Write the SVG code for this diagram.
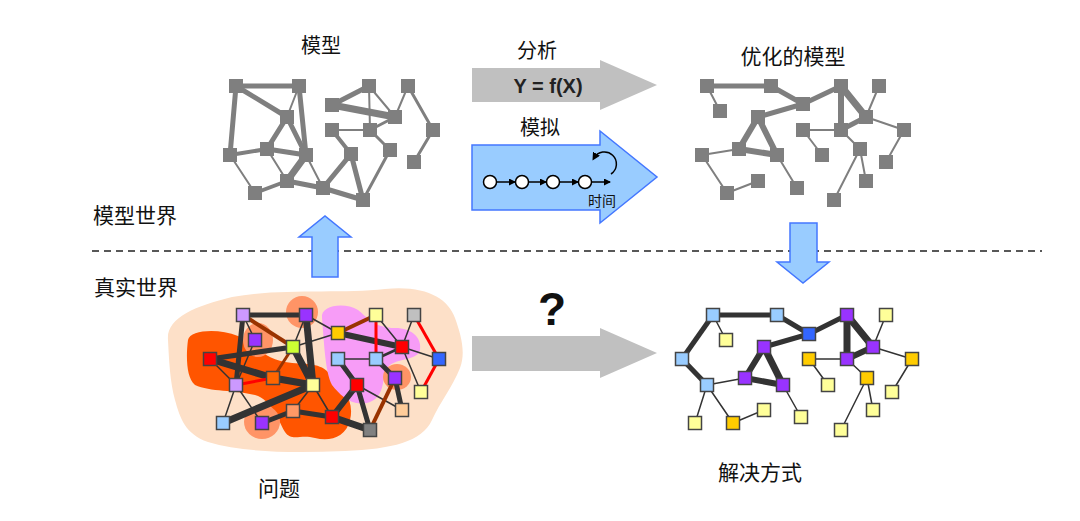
<svg xmlns="http://www.w3.org/2000/svg" width="1080" height="521" viewBox="0 0 1080 521">
<style>
.t{font-family:"Noto Sans CJK SC","Noto Sans",sans-serif;font-size:20px;fill:#111;text-anchor:middle}
.ge{stroke:#7f7f7f;stroke-linecap:round;fill:none}
.gn{fill:#7f7f7f}
.de{stroke:#333;stroke-linecap:round;fill:none}
.br{stroke:#993300;fill:none}
.rd{stroke:#ff0000;fill:none}
.bn{stroke:#444;stroke-width:1.5}
.lav{fill:#cc99ff}.pur{fill:#9933ff}.lim{fill:#ccff33}.red{fill:#ff0000}.org{fill:#ff6600}
.ly{fill:#ffff99}.sal{fill:#ff9966}.lb{fill:#99ccff}.gold{fill:#ffcc00}.lg{fill:#c0c0c0}
.blu{fill:#3366ff}.pch{fill:#ffcc99}.gry{fill:#808080}
.barrow{fill:#99ccff;stroke:#4477ff;stroke-width:1.5}
.garrow{fill:#c0c0c0}
</style>
<defs>
<marker id="ah" markerWidth="7" markerHeight="7" refX="6" refY="3.5" orient="auto" markerUnits="userSpaceOnUse">
<path d="M0,0 L7,3.5 L0,7 Z" fill="#000"/>
</marker>
<marker id="ah2" markerWidth="8" markerHeight="8" refX="5" refY="4" orient="auto" markerUnits="userSpaceOnUse">
<path d="M0,0 L8,4 L0,8 Z" fill="#000"/>
</marker>
</defs>

<!-- labels -->
<g id="labels">
<text class="t" x="321" y="53">模型</text>
<text class="t" x="537" y="58">分析</text>
<text class="t" x="793" y="64" style="font-size:21px">优化的模型</text>
<text class="t" x="540" y="135">模拟</text>
<text class="t" x="135" y="223" style="font-size:21px">模型世界</text>
<text class="t" x="136" y="295" style="font-size:21px">真实世界</text>
<text class="t" x="279" y="496" style="font-size:21px">问题</text>
<text class="t" x="760" y="480" style="font-size:21px">解决方式</text>
</g>

<!-- divider -->
<line x1="92" y1="251" x2="1042" y2="251" stroke="#222" stroke-width="1.5" stroke-dasharray="7 5"/>

<!-- big arrows -->
<g id="arrow-analysis">
<path class="garrow" d="M472,68 H600 V60 L657,85 L600,110 V102 H472 Z"/>
<text x="548" y="93" style="font-family:'Liberation Sans',Arial,sans-serif;font-weight:bold;font-size:20px;fill:#222;text-anchor:middle">Y = f(X)</text>
</g>
<g id="arrow-sim">
<path class="barrow" d="M472,145 H600 V131 L657,177 L600,223 V210 H472 Z"/>
<line x1="496.5" y1="182" x2="515" y2="182" stroke="#000" stroke-width="1.5" marker-end="url(#ah)"/>
<line x1="528.5" y1="182" x2="546" y2="182" stroke="#000" stroke-width="1.5" marker-end="url(#ah)"/>
<line x1="559.5" y1="182" x2="578" y2="182" stroke="#000" stroke-width="1.5" marker-end="url(#ah)"/>
<line x1="591.5" y1="182" x2="610" y2="182" stroke="#000" stroke-width="1.5" marker-end="url(#ah)"/>
<circle cx="490" cy="182" r="6.5" fill="#fff" stroke="#000" stroke-width="1.5"/>
<circle cx="522" cy="182" r="6.5" fill="#fff" stroke="#000" stroke-width="1.5"/>
<circle cx="553" cy="182" r="6.5" fill="#fff" stroke="#000" stroke-width="1.5"/>
<circle cx="585" cy="182" r="6.5" fill="#fff" stroke="#000" stroke-width="1.5"/>
<path d="M611,174 A12,12 0 1 0 594,158" fill="none" stroke="#000" stroke-width="1.5" marker-end="url(#ah2)"/>
<text class="t" x="602" y="206" style="font-size:14px">时间</text>
</g>
<g id="arrow-up"><path class="barrow" d="M312,277 V237 H299 L325,216 L351,237 H338 V277 Z"/></g>
<g id="arrow-down"><path class="barrow" d="M790,223 H817 V262 H829 L803,283 L777,262 H790 Z"/></g>
<g id="arrow-question">
<path class="garrow" d="M472,336 H600 V328 L657,353 L600,378 V371 H472 Z"/>
<text x="552" y="325" style="font-family:'Liberation Sans',Arial,sans-serif;font-weight:bold;font-size:46px;fill:#111;text-anchor:middle">?</text>
</g>

<!-- top-left model connectors -->
<g id="tl-connectors">
<g class="ge" stroke-width="2">
<line x1="299" y1="86" x2="287" y2="117"/><line x1="230" y1="155" x2="255" y2="193"/>
<line x1="267" y1="149" x2="287" y2="181"/><line x1="306" y1="155" x2="323" y2="188"/>
<line x1="332" y1="130" x2="370" y2="130"/><line x1="369" y1="86" x2="395" y2="117"/>
<line x1="369" y1="86" x2="370" y2="130"/><line x1="408" y1="86" x2="395" y2="117"/>
</g>
<g class="ge" stroke-width="3">
<line x1="370" y1="130" x2="390" y2="150"/><line x1="390" y1="150" x2="363" y2="200"/>
<line x1="370" y1="130" x2="395" y2="117"/><line x1="408" y1="86" x2="433" y2="130"/>
<line x1="433" y1="130" x2="414" y2="162"/>
</g>
<g class="ge" stroke-width="4">
<line x1="230" y1="155" x2="267" y2="149"/><line x1="255" y1="193" x2="287" y2="181"/>
<line x1="332" y1="130" x2="351" y2="154"/>
</g>
<g class="ge" stroke-width="5">
<line x1="236" y1="86" x2="299" y2="86"/><line x1="236" y1="86" x2="287" y2="117"/>
<line x1="236" y1="86" x2="230" y2="155"/><line x1="299" y1="86" x2="306" y2="155"/>
<line x1="287" y1="117" x2="267" y2="149"/><line x1="287" y1="117" x2="306" y2="155"/>
<line x1="267" y1="149" x2="306" y2="155"/><line x1="287" y1="181" x2="323" y2="188"/>
<line x1="323" y1="188" x2="363" y2="200"/><line x1="323" y1="188" x2="351" y2="154"/>
<line x1="351" y1="154" x2="363" y2="200"/><line x1="332" y1="105" x2="369" y2="86"/>
</g>
<g class="ge" stroke-width="7">
<line x1="306" y1="155" x2="287" y2="181"/><line x1="332" y1="105" x2="395" y2="117"/>
</g>
</g>

<!-- top-left model nodes -->
<g id="tl-A"><rect class="gn" x="229" y="79" width="14" height="14"/></g>
<g id="tl-B"><rect class="gn" x="292" y="79" width="14" height="14"/></g>
<g id="tl-C"><rect class="gn" x="280" y="110" width="14" height="14"/></g>
<g id="tl-D"><rect class="gn" x="223" y="148" width="14" height="14"/></g>
<g id="tl-E"><rect class="gn" x="260" y="142" width="14" height="14"/></g>
<g id="tl-F"><rect class="gn" x="299" y="148" width="14" height="14"/></g>
<g id="tl-G"><rect class="gn" x="248" y="186" width="14" height="14"/></g>
<g id="tl-H"><rect class="gn" x="280" y="174" width="14" height="14"/></g>
<g id="tl-I"><rect class="gn" x="316" y="181" width="14" height="14"/></g>
<g id="tl-J"><rect class="gn" x="356" y="193" width="14" height="14"/></g>
<g id="tl-K"><rect class="gn" x="344" y="147" width="14" height="14"/></g>
<g id="tl-L"><rect class="gn" x="325" y="123" width="14" height="14"/></g>
<g id="tl-M"><rect class="gn" x="363" y="123" width="14" height="14"/></g>
<g id="tl-N"><rect class="gn" x="383" y="143" width="14" height="14"/></g>
<g id="tl-O"><rect class="gn" x="325" y="98" width="14" height="14"/></g>
<g id="tl-P"><rect class="gn" x="362" y="79" width="14" height="14"/></g>
<g id="tl-Q"><rect class="gn" x="388" y="110" width="14" height="14"/></g>
<g id="tl-R"><rect class="gn" x="401" y="79" width="14" height="14"/></g>
<g id="tl-S"><rect class="gn" x="426" y="123" width="14" height="14"/></g>
<g id="tl-T"><rect class="gn" x="407" y="155" width="14" height="14"/></g>

<!-- top-right optimized connectors -->
<g id="tr-connectors">
<g class="ge" stroke-width="2">
<line x1="707" y1="86" x2="720" y2="111"/><line x1="739" y1="149" x2="702" y2="155"/>
<line x1="702" y1="155" x2="727" y2="193"/><line x1="727" y1="193" x2="758" y2="181"/>
<line x1="777" y1="155" x2="797" y2="188"/><line x1="879" y1="86" x2="866" y2="117"/>
<line x1="866" y1="117" x2="904" y2="130"/><line x1="904" y1="130" x2="886" y2="162"/>
<line x1="803" y1="130" x2="841" y2="130"/><line x1="803" y1="130" x2="822" y2="155"/>
<line x1="841" y1="130" x2="860" y2="149"/><line x1="860" y1="149" x2="866" y2="181"/>
<line x1="860" y1="149" x2="834" y2="200"/>
</g>
<g class="ge" stroke-width="5">
<line x1="707" y1="86" x2="771" y2="86"/><line x1="771" y1="86" x2="803" y2="104"/>
<line x1="803" y1="104" x2="758" y2="117"/><line x1="803" y1="104" x2="841" y2="86"/>
<line x1="841" y1="130" x2="866" y2="117"/>
</g>
<g class="ge" stroke-width="6">
<line x1="758" y1="117" x2="739" y2="149"/><line x1="758" y1="117" x2="777" y2="155"/>
<line x1="739" y1="149" x2="777" y2="155"/><line x1="841" y1="86" x2="841" y2="130"/>
</g>
<g class="ge" stroke-width="7"><line x1="841" y1="86" x2="866" y2="117"/></g>
</g>

<!-- top-right nodes -->
<g id="tr-a"><rect class="gn" x="700" y="79" width="14" height="14"/></g>
<g id="tr-b"><rect class="gn" x="764" y="79" width="14" height="14"/></g>
<g id="tr-c"><rect class="gn" x="713" y="104" width="14" height="14"/></g>
<g id="tr-d"><rect class="gn" x="796" y="97" width="14" height="14"/></g>
<g id="tr-e"><rect class="gn" x="751" y="110" width="14" height="14"/></g>
<g id="tr-f"><rect class="gn" x="732" y="142" width="14" height="14"/></g>
<g id="tr-g"><rect class="gn" x="695" y="148" width="14" height="14"/></g>
<g id="tr-h"><rect class="gn" x="770" y="148" width="14" height="14"/></g>
<g id="tr-i"><rect class="gn" x="720" y="186" width="14" height="14"/></g>
<g id="tr-j"><rect class="gn" x="751" y="174" width="14" height="14"/></g>
<g id="tr-k"><rect class="gn" x="790" y="181" width="14" height="14"/></g>
<g id="tr-l"><rect class="gn" x="834" y="79" width="14" height="14"/></g>
<g id="tr-m"><rect class="gn" x="872" y="79" width="14" height="14"/></g>
<g id="tr-n"><rect class="gn" x="859" y="110" width="14" height="14"/></g>
<g id="tr-o"><rect class="gn" x="796" y="123" width="14" height="14"/></g>
<g id="tr-p"><rect class="gn" x="834" y="123" width="14" height="14"/></g>
<g id="tr-q"><rect class="gn" x="815" y="148" width="14" height="14"/></g>
<g id="tr-r"><rect class="gn" x="853" y="142" width="14" height="14"/></g>
<g id="tr-s"><rect class="gn" x="897" y="123" width="14" height="14"/></g>
<g id="tr-t"><rect class="gn" x="879" y="155" width="14" height="14"/></g>
<g id="tr-u"><rect class="gn" x="859" y="174" width="14" height="14"/></g>
<g id="tr-v"><rect class="gn" x="827" y="193" width="14" height="14"/></g>

<!-- problem background blobs -->
<g id="problem-blobs">
<path fill="#fde0c8" d="M168,340 C166,318 195,306 232,297 C280,288 340,294 385,289 C425,285 448,298 455,318 C461,335 466,352 460,368 C452,388 440,402 432,420 C422,442 392,449 345,451 C295,453 245,453 208,442 C185,434 180,418 175,400 C170,382 169,360 168,340 Z"/>
<path fill="#ff5500" d="M188,340 C190,330 218,328 238,336 C255,343 262,358 285,362 C305,365 318,362 328,372 C342,386 355,400 350,420 C346,437 330,442 315,438 C300,434 292,442 285,432 C278,420 272,400 255,395 C235,390 210,392 195,385 C186,378 186,355 188,340 Z"/>
<ellipse cx="302" cy="312" rx="16" ry="16" fill="#ff9466"/>
<ellipse cx="258" cy="340" rx="15" ry="17" fill="#ff9466"/>
<ellipse cx="262" cy="422" rx="18" ry="17" fill="#ff9466"/>
<path fill="#f79cf7" d="M322,318 C320,305 345,302 358,310 C368,318 375,328 395,328 C412,328 422,338 420,350 C418,360 400,358 390,365 C380,372 388,395 370,402 C352,408 340,395 332,385 C325,372 324,340 322,318 Z"/>
<ellipse cx="397" cy="377" rx="14" ry="13" fill="#ff9466"/>
</g>

<!-- problem connectors -->
<g id="bl-connectors">
<g class="de" stroke-width="1.5">
<line x1="243" y1="315" x2="255" y2="340"/><line x1="306" y1="315" x2="293" y2="347"/>
<line x1="210" y1="359" x2="236" y2="385"/><line x1="255" y1="340" x2="236" y2="385"/>
<line x1="236" y1="385" x2="223" y2="423"/><line x1="236" y1="385" x2="262" y2="423"/>
<line x1="293" y1="411" x2="313" y2="385"/><line x1="306" y1="315" x2="338" y2="333"/>
<line x1="293" y1="347" x2="338" y2="333"/><line x1="376" y1="315" x2="402" y2="347"/>
<line x1="414" y1="315" x2="402" y2="347"/><line x1="402" y1="347" x2="439" y2="359"/>
<line x1="402" y1="347" x2="421" y2="392"/><line x1="338" y1="359" x2="376" y2="359"/>
<line x1="357" y1="385" x2="402" y2="410"/><line x1="313" y1="385" x2="332" y2="417"/>
</g>
<line class="de" stroke-width="2.5" x1="402" y1="347" x2="376" y2="359"/>
<g class="de" stroke-width="5">
<line x1="243" y1="315" x2="306" y2="315"/><line x1="243" y1="315" x2="236" y2="385"/>
<line x1="210" y1="359" x2="293" y2="347"/><line x1="338" y1="359" x2="357" y2="385"/>
<line x1="376" y1="359" x2="395" y2="378"/><line x1="395" y1="378" x2="402" y2="410"/>
<line x1="357" y1="385" x2="370" y2="430"/><line x1="262" y1="423" x2="293" y2="411"/>
<line x1="293" y1="411" x2="332" y2="417"/>
</g>
<g class="de" stroke-width="6">
<line x1="338" y1="333" x2="402" y2="347"/><line x1="357" y1="385" x2="332" y2="417"/>
</g>
<g class="de" stroke-width="7">
<line x1="306" y1="315" x2="313" y2="385"/><line x1="210" y1="359" x2="273" y2="378"/>
<line x1="273" y1="378" x2="313" y2="385"/><line x1="293" y1="347" x2="313" y2="385"/>
<line x1="223" y1="423" x2="313" y2="385"/><line x1="332" y1="417" x2="370" y2="430"/>
</g>
<g class="br" stroke-width="4">
<line x1="243" y1="315" x2="293" y2="347"/><line x1="338" y1="333" x2="376" y2="315"/>
<line x1="395" y1="378" x2="370" y2="430"/>
</g>
<line class="br" stroke-width="3" x1="293" y1="347" x2="273" y2="378"/>
<g class="rd" stroke-width="3">
<line x1="236" y1="385" x2="273" y2="378"/><line x1="376" y1="315" x2="376" y2="359"/>
<line x1="414" y1="315" x2="439" y2="359"/><line x1="439" y1="359" x2="421" y2="392"/>
</g>
</g>

<!-- problem nodes -->
<g id="bl-n1"><rect class="bn lav" x="236.5" y="308.5" width="13" height="13"/></g>
<g id="bl-n2"><rect class="bn pur" x="299.5" y="308.5" width="13" height="13"/></g>
<g id="bl-n3"><rect class="bn pur" x="248.5" y="333.5" width="13" height="13"/></g>
<g id="bl-n4"><rect class="bn lim" x="286.5" y="340.5" width="13" height="13"/></g>
<g id="bl-n5"><rect class="bn red" x="203.5" y="352.5" width="13" height="13"/></g>
<g id="bl-n6"><rect class="bn org" x="266.5" y="371.5" width="13" height="13"/></g>
<g id="bl-n7"><rect class="bn lav" x="229.5" y="378.5" width="13" height="13"/></g>
<g id="bl-n8"><rect class="bn ly" x="306.5" y="378.5" width="13" height="13"/></g>
<g id="bl-n9"><rect class="bn sal" x="286.5" y="404.5" width="13" height="13"/></g>
<g id="bl-n10"><rect class="bn lb" x="216.5" y="416.5" width="13" height="13"/></g>
<g id="bl-n11"><rect class="bn pur" x="255.5" y="416.5" width="13" height="13"/></g>
<g id="bl-m2"><rect class="bn gold" x="331.5" y="326.5" width="13" height="13"/></g>
<g id="bl-m3"><rect class="bn ly" x="369.5" y="308.5" width="13" height="13"/></g>
<g id="bl-m4"><rect class="bn lg" x="407.5" y="308.5" width="13" height="13"/></g>
<g id="bl-m5"><rect class="bn red" x="395.5" y="340.5" width="13" height="13"/></g>
<g id="bl-m6"><rect class="bn lb" x="331.5" y="352.5" width="13" height="13"/></g>
<g id="bl-m7"><rect class="bn lb" x="369.5" y="352.5" width="13" height="13"/></g>
<g id="bl-m8"><rect class="bn blu" x="432.5" y="352.5" width="13" height="13"/></g>
<g id="bl-m9"><rect class="bn pur" x="388.5" y="371.5" width="13" height="13"/></g>
<g id="bl-m10"><rect class="bn red" x="350.5" y="378.5" width="13" height="13"/></g>
<g id="bl-m12"><rect class="bn ly" x="414.5" y="385.5" width="13" height="13"/></g>
<g id="bl-m13"><rect class="bn pch" x="395.5" y="403.5" width="13" height="13"/></g>
<g id="bl-m14"><rect class="bn red" x="325.5" y="410.5" width="13" height="13"/></g>
<g id="bl-m15"><rect class="bn gry" x="363.5" y="423.5" width="13" height="13"/></g>

<!-- solution connectors -->
<g id="br-connectors">
<g class="de" stroke-width="1.5">
<line x1="713" y1="315" x2="726" y2="340"/><line x1="707" y1="385" x2="745" y2="378"/>
<line x1="707" y1="385" x2="695" y2="423"/><line x1="707" y1="385" x2="733" y2="423"/>
<line x1="733" y1="423" x2="764" y2="410"/><line x1="783" y1="385" x2="801" y2="417"/>
<line x1="886" y1="315" x2="873" y2="347"/><line x1="873" y1="347" x2="912" y2="359"/>
<line x1="912" y1="359" x2="892" y2="392"/><line x1="809" y1="359" x2="847" y2="359"/>
<line x1="809" y1="359" x2="828" y2="385"/><line x1="847" y1="359" x2="867" y2="378"/>
<line x1="867" y1="378" x2="873" y2="410"/><line x1="867" y1="378" x2="841" y2="430"/>
</g>
<g class="de" stroke-width="5">
<line x1="713" y1="315" x2="777" y2="315"/><line x1="713" y1="315" x2="682" y2="359"/>
<line x1="777" y1="315" x2="809" y2="334"/><line x1="764" y1="347" x2="809" y2="334"/>
<line x1="682" y1="359" x2="707" y2="385"/><line x1="809" y1="334" x2="847" y2="315"/>
</g>
<g class="de" stroke-width="6">
<line x1="764" y1="347" x2="745" y2="378"/><line x1="745" y1="378" x2="783" y2="385"/>
<line x1="847" y1="359" x2="873" y2="347"/>
</g>
<g class="de" stroke-width="7">
<line x1="764" y1="347" x2="783" y2="385"/><line x1="847" y1="315" x2="847" y2="359"/>
<line x1="847" y1="315" x2="873" y2="347"/>
</g>
</g>

<!-- solution nodes -->
<g id="br-s1"><rect class="bn lb" x="706.5" y="308.5" width="13" height="13"/></g>
<g id="br-s2"><rect class="bn lb" x="770.5" y="308.5" width="13" height="13"/></g>
<g id="br-s3"><rect class="bn ly" x="719.5" y="333.5" width="13" height="13"/></g>
<g id="br-s4"><rect class="bn pur" x="757.5" y="340.5" width="13" height="13"/></g>
<g id="br-s5"><rect class="bn lb" x="675.5" y="352.5" width="13" height="13"/></g>
<g id="br-s6"><rect class="bn pur" x="738.5" y="371.5" width="13" height="13"/></g>
<g id="br-s7"><rect class="bn pur" x="776.5" y="378.5" width="13" height="13"/></g>
<g id="br-s8"><rect class="bn lb" x="700.5" y="378.5" width="13" height="13"/></g>
<g id="br-s9"><rect class="bn ly" x="688.5" y="416.5" width="13" height="13"/></g>
<g id="br-s10"><rect class="bn gold" x="726.5" y="416.5" width="13" height="13"/></g>
<g id="br-s11"><rect class="bn ly" x="757.5" y="403.5" width="13" height="13"/></g>
<g id="br-s12"><rect class="bn ly" x="794.5" y="410.5" width="13" height="13"/></g>
<g id="br-t1"><rect class="bn pur" x="840.5" y="308.5" width="13" height="13"/></g>
<g id="br-t2"><rect class="bn ly" x="879.5" y="308.5" width="13" height="13"/></g>
<g id="br-t3"><rect class="bn blu" x="802.5" y="327.5" width="13" height="13"/></g>
<g id="br-t4"><rect class="bn pur" x="866.5" y="340.5" width="13" height="13"/></g>
<g id="br-t5"><rect class="bn gold" x="802.5" y="352.5" width="13" height="13"/></g>
<g id="br-t6"><rect class="bn pur" x="840.5" y="352.5" width="13" height="13"/></g>
<g id="br-t7"><rect class="bn gold" x="905.5" y="352.5" width="13" height="13"/></g>
<g id="br-t8"><rect class="bn ly" x="821.5" y="378.5" width="13" height="13"/></g>
<g id="br-t9"><rect class="bn gold" x="860.5" y="371.5" width="13" height="13"/></g>
<g id="br-t10"><rect class="bn ly" x="885.5" y="385.5" width="13" height="13"/></g>
<g id="br-t12"><rect class="bn ly" x="866.5" y="403.5" width="13" height="13"/></g>
<g id="br-t13"><rect class="bn ly" x="834.5" y="423.5" width="13" height="13"/></g>
</svg>
